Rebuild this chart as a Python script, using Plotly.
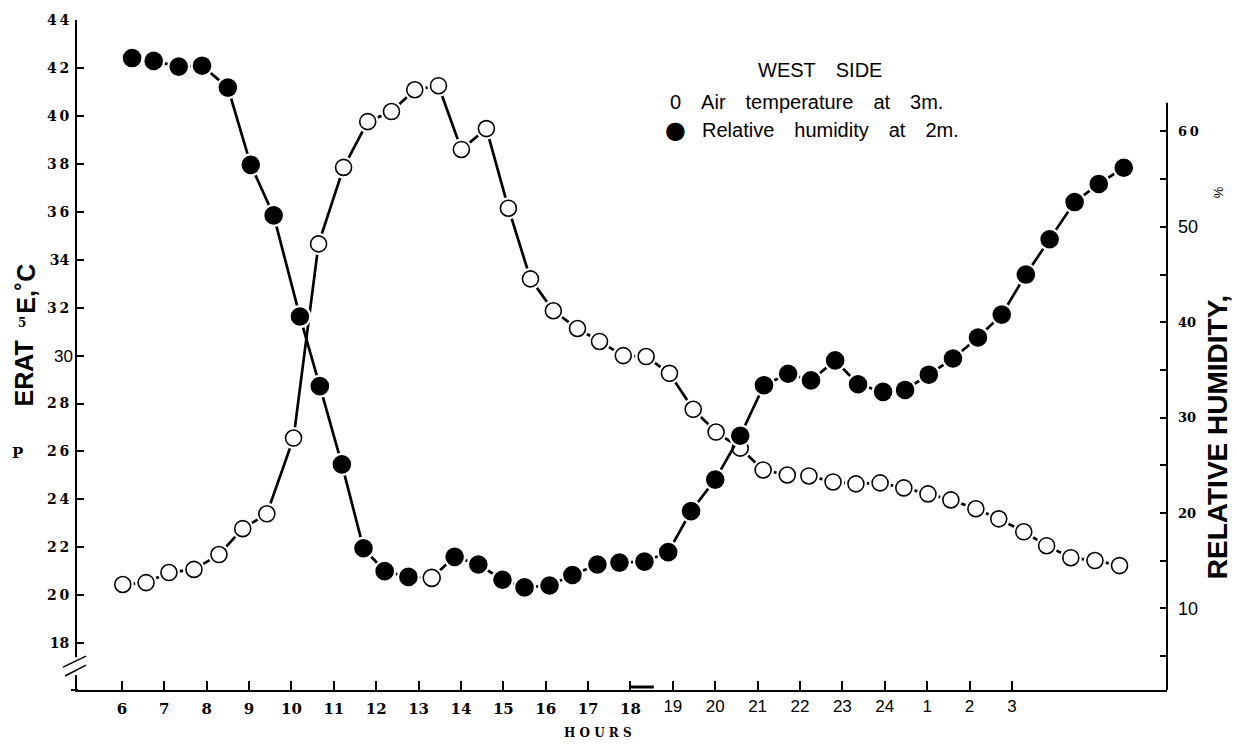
import plotly.graph_objects as go

# ---------------- data ----------------
# Air temperature at 3 m (open circles, left axis, deg C)
temp_hours = [6.02, 6.57, 7.11, 7.70, 8.29, 8.85, 9.42, 10.05, 10.64, 11.23,
              11.80, 12.36, 12.91, 13.47, 14.01, 14.60, 15.12, 15.64, 16.18, 16.75,
              17.27, 17.83, 18.37, 18.92, 19.48, 20.02, 20.59, 21.13, 21.70, 22.21,
              22.78, 23.32, 23.89, 24.45, 25.02, 25.56, 26.15, 26.69, 27.28, 27.82,
              28.39, 28.96, 29.54]
temp_values = [20.45, 20.53, 20.95, 21.08, 21.70, 22.78, 23.40, 26.56, 34.66, 37.85,
               39.76, 40.18, 41.09, 41.26, 38.60, 39.47, 36.15, 33.20, 31.87, 31.13,
               30.59, 30.00, 29.96, 29.26, 27.76, 26.81, 26.14, 25.23, 25.02, 24.98,
               24.73, 24.65, 24.69, 24.48, 24.23, 23.98, 23.61, 23.19, 22.65, 22.07,
               21.57, 21.45, 21.24]

# Relative humidity at 2 m (filled circles, right axis, %)
rh_hours = [6.24, 6.75, 7.34, 7.89, 8.50, 9.04, 9.58, 10.20, 10.67, 11.19,
            11.70, 12.20, 12.76, 13.31, 13.85, 14.41, 14.98, 15.50, 16.09, 16.63,
            17.22, 17.74, 18.33, 18.89, 19.43, 20.00, 20.59, 21.15, 21.72, 22.26,
            22.83, 23.37, 23.96, 24.48, 25.04, 25.61, 26.20, 26.76, 27.33, 27.89,
            28.48, 29.05, 29.64]
rh_values = [67.7, 67.4, 66.8, 66.9, 64.6, 56.5, 51.2, 40.6, 33.3, 25.1,
             16.3, 13.9, 13.3, 13.2, 15.4, 14.6, 13.0, 12.2, 12.4, 13.5,
             14.6, 14.8, 14.9, 15.9, 20.2, 23.5, 28.1, 33.4, 34.6, 33.9,
             36.0, 33.5, 32.7, 32.9, 34.5, 36.2, 38.4, 40.8, 45.0, 48.7,
             52.6, 54.5, 56.2]
# one humidity point is printed as an open circle in the original
rh_open_index = 13

# x ticks: 6..18 printed in a bold serif face, 19..3 in a plain sans face
hour_ticks_serif = [6, 7, 8, 9, 10, 11, 12, 13, 14, 15, 16, 17, 18]
hour_labels_serif = ["6", "7", "8", "9", "10", "11", "12", "13", "14", "15", "16", "17", "18"]
hour_ticks_sans = [19, 20, 21, 22, 23, 24, 25, 26, 27]
hour_labels_sans = ["19", "20", "21", "22", "23", "24", "1", "2", "3"]

temp_ticks_serif = [18, 20, 22, 24, 26, 28, 32, 34, 36, 38, 40, 42, 44]
temp_labels_serif = ["18", "2\u20090", "2\u20092", "2\u20094", "2\u20096", "2\u20098", "3\u20092",
                     "34", "3\u20096", "3\u20098", "4\u20090", "4\u20092", "4\u20094"]
temp_ticks_sans = [30]
temp_labels_sans = ["30"]

rh_ticks_serif = [5, 15, 20, 25, 30, 35, 40, 45, 55, 60]
rh_labels_serif = ["", "", "20", "", "30", "", "40", "", "", "6\u20090"]
rh_ticks_sans = [10, 50]
rh_labels_sans = ["10", "50"]

# ---------------- styling ----------------
SERIF = "DejaVu Serif"
SANS = "Liberation Sans"
W, H = 1237, 744
L, R, T, B = 77, 70, 17, 54
PW, PH = W - L - R, H - T - B
XR = [4.94, 30.66]
YR = [16.05, 44.0]
Y2R = [1.44, 71.69]
OPEN_SIZE, FILLED_SIZE, HALO = 16, 17, 6


def px(x):
    return (x - L) / PW


def py(y):
    return (H - B - y) / PH


def bold(labels):
    return ["<b>%s</b>" % s if s else "" for s in labels]


fig = go.Figure()


def add_series(xs, ys, yaxis, size, fills):
    # connecting line
    fig.add_trace(go.Scatter(x=xs, y=ys, mode="lines", yaxis=yaxis,
                             line=dict(color="black", width=2.7),
                             showlegend=False, hoverinfo="skip"))
    # white halo so the line stops short of each circle, as in the print
    fig.add_trace(go.Scatter(x=xs, y=ys, mode="markers", yaxis=yaxis,
                             marker=dict(size=size + HALO, color="white", line=dict(width=0)),
                             showlegend=False, hoverinfo="skip"))
    fig.add_trace(go.Scatter(x=xs, y=ys, mode="markers", yaxis=yaxis,
                             marker=dict(symbol="circle", size=size, color=fills,
                                         line=dict(color="black", width=1.6)),
                             showlegend=False, hoverinfo="skip"))


add_series(temp_hours, temp_values, "y", OPEN_SIZE, "white")
rh_colors = ["white" if i == rh_open_index else "black" for i in range(len(rh_values))]
add_series(rh_hours, rh_values, "y2", FILLED_SIZE, rh_colors)

# invisible anchors so that the overlay axes (used only for a different label face) are drawn
for xa, ya, yv in [("x2", "y", 30), ("x", "y3", 30), ("x", "y4", 30)]:
    fig.add_trace(go.Scatter(x=[12], y=[yv], xaxis=xa, yaxis=ya, mode="markers",
                             marker=dict(opacity=0), showlegend=False, hoverinfo="skip"))

serif_bold = dict(family=SERIF, color="black", weight="bold")
sans_plain = dict(family=SANS, color="black")

fig.update_layout(
    width=W, height=H,
    margin=dict(l=L, r=R, t=T, b=B),
    paper_bgcolor="white", plot_bgcolor="white",
    showlegend=False,
    xaxis=dict(range=XR, tickvals=hour_ticks_serif, ticktext=bold(hour_labels_serif),
               ticks="inside", ticklen=9, tickwidth=1.5, tickcolor="black",
               showline=True, linecolor="black", linewidth=2,
               showgrid=False, zeroline=False, ticklabelstandoff=4,
               tickfont=dict(size=15, **serif_bold)),
    xaxis2=dict(range=XR, overlaying="x", anchor="y", side="bottom",
                tickvals=hour_ticks_sans, ticktext=hour_labels_sans,
                ticks="inside", ticklen=9, tickwidth=1.5, tickcolor="black",
                showline=False, showgrid=False, zeroline=False, ticklabelstandoff=4,
                tickfont=dict(size=17, **sans_plain)),
    yaxis=dict(range=YR, tickvals=temp_ticks_serif, ticktext=bold(temp_labels_serif),
               ticks="inside", ticklen=7, tickwidth=1.5, tickcolor="black",
               showline=True, linecolor="black", linewidth=2,
               showgrid=False, zeroline=False, ticklabelstandoff=3,
               tickfont=dict(size=14, **serif_bold)),
    yaxis3=dict(range=YR, overlaying="y", anchor="x", side="left",
                tickvals=temp_ticks_sans, ticktext=temp_labels_sans,
                ticks="inside", ticklen=7, tickwidth=1.5, tickcolor="black",
                showline=False, showgrid=False, zeroline=False, ticklabelstandoff=3,
                tickfont=dict(size=17, **sans_plain)),
    yaxis2=dict(range=Y2R, overlaying="y", anchor="x", side="right",
                tickvals=rh_ticks_serif, ticktext=bold(rh_labels_serif),
                ticks="inside", ticklen=7, tickwidth=2, tickcolor="black",
                showline=False, showgrid=False, zeroline=False, ticklabelstandoff=10,
                tickfont=dict(size=13, **serif_bold)),
    yaxis4=dict(range=Y2R, overlaying="y", anchor="x", side="right",
                tickvals=rh_ticks_sans, ticktext=rh_labels_sans,
                ticks="inside", ticklen=7, tickwidth=2, tickcolor="black",
                showline=False, showgrid=False, zeroline=False, ticklabelstandoff=10,
                tickfont=dict(size=18, **sans_plain)),
)

shapes = [
    # right axis line (starts a little above the 60 % tick)
    dict(type="line", xref="paper", yref="paper", x0=1, x1=1, y0=0, y1=py(100),
         line=dict(color="black", width=2)),
    # bottom axis stub left of the vertical axis
    dict(type="line", xref="paper", yref="paper", x0=px(71), x1=px(78), y0=0, y1=0,
         line=dict(color="black", width=2)),
    # short heavy dash printed just after the 18 h tick
    dict(type="line", xref="x", yref="paper", x0=18.0, x1=18.55, y0=py(687), y1=py(687),
         line=dict(color="black", width=3)),
    # gap + break marks on the left axis
    dict(type="line", xref="paper", yref="paper", x0=0, x1=0, y0=py(675), y1=py(657),
         line=dict(color="white", width=5)),
    dict(type="line", xref="paper", yref="paper", x0=px(63), x1=px(86), y0=py(667), y1=py(656),
         line=dict(color="black", width=1.6)),
    dict(type="line", xref="paper", yref="paper", x0=px(65), x1=px(86), y0=py(676), y1=py(665),
         line=dict(color="black", width=1.6)),
]
fig.update_layout(shapes=shapes)

GAP = "\u2003"
ann = [
    dict(text="WEST" + GAP + "SIDE", x=px(820), y=py(67), font=dict(family=SANS, size=20)),
    dict(text="0" + GAP + "Air" + GAP + "temperature" + GAP + "at" + GAP + "3m.",
         x=px(668), y=py(99), xanchor="left", font=dict(family=SANS, size=20)),
    dict(text="\u25cf", x=px(676), y=py(127), font=dict(family="DejaVu Sans", size=24)),
    dict(text="Relative" + GAP + "humidity" + GAP + "at" + GAP + "2m.",
         x=px(700), y=py(127), xanchor="left", font=dict(family=SANS, size=20)),
    dict(text="<b>H O U R S</b>", x=px(598), y=py(733), font=dict(family=SERIF, size=12)),
    dict(text="<b>ERAT</b>", x=px(24), y=py(372), textangle=-90, font=dict(family=SANS, size=25)),
    dict(text="<b>5</b>", x=px(22), y=py(321), font=dict(family=SERIF, size=12)),
    dict(text="<b>E,\u02daC</b>", x=px(26), y=py(287), textangle=-90, font=dict(family=SANS, size=25)),
    dict(text="<b>P</b>", x=px(17), y=py(452), font=dict(family=SERIF, size=15)),
    dict(text="<b>RELATIVE HUMIDITY,</b>", x=px(1217), y=py(436), textangle=-90,
         font=dict(family=SANS, size=28)),
    dict(text="%", x=px(1218), y=py(190), textangle=-90, font=dict(family=SANS, size=13)),
]
for a in ann:
    a.setdefault("xref", "paper")
    a.setdefault("yref", "paper")
    a.setdefault("showarrow", False)
    a.setdefault("xanchor", "center")
    a.setdefault("yanchor", "middle")
    a["font"].setdefault("color", "black")
fig.update_layout(annotations=ann)

fig.write_html("out.html", config={"displayModeBar": False},
               post_script="document.body.style.margin='0px';document.body.style.padding='0px';")
